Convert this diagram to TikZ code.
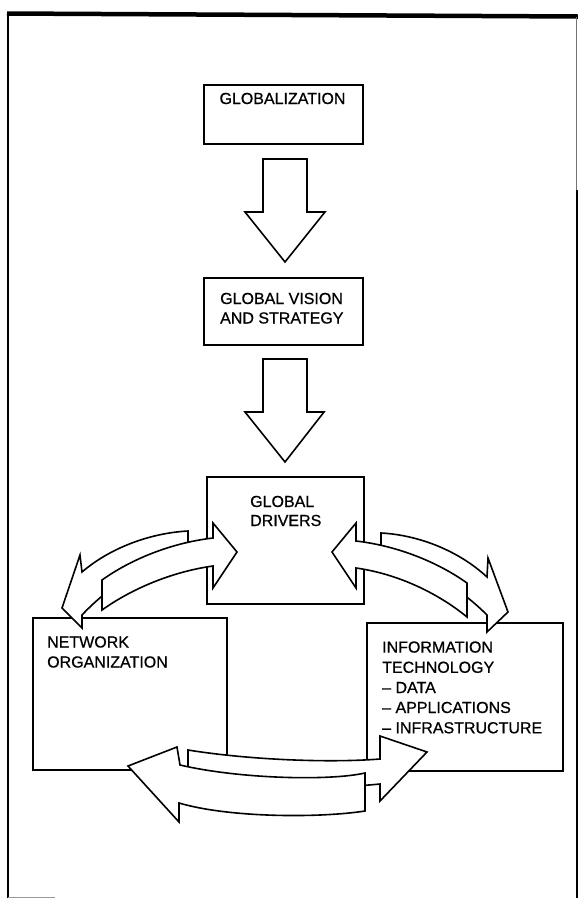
\documentclass[tikz,border=0pt]{standalone}
\usepackage{fontspec}
\setmainfont{Liberation Sans}
\newfontfamily\hvfont[FakeBold=0.7]{Liberation Sans}
\begin{document}
\begin{tikzpicture}[x=1pt,y=-1pt,
  box/.style={draw, line width=1.6pt, fill=white, inner sep=0pt, anchor=north west},
  blk/.style={draw, line width=1.6pt, fill=white, line join=miter, miter limit=20},
  lbl/.style={anchor=base west, inner sep=0pt, font=\hvfont\fontsize{16}{19.5}\selectfont},
  frm/.style={line width=2pt}]
\useasboundingbox (0,0) rectangle (578,898);
\fill[white] (0,0) rectangle (578,898);
% frame
\draw[line width=4.5pt] (7,13.5) -- (578,16.5);
\draw[frm] (8,12) -- (8,898);
\draw[line width=1.2pt, black!55] (576.8,17) -- (576.8,190);
\draw[line width=1.4pt] (576.8,190) -- (576.8,898);
\draw[line width=1pt, black!40] (8,897) -- (55,897);
% boxes
\node[box, minimum width=159pt, minimum height=59pt] (glob) at (203,84) {};
\node[box, minimum width=159pt, minimum height=67pt] (vis) at (203,277) {};
\node[box, minimum width=157pt, minimum height=127pt] (drv) at (206,476) {};
\node[box, minimum width=194pt, minimum height=152pt] (net) at (32,617) {};
\node[box, minimum width=196pt, minimum height=148pt] (it) at (366,622) {};
% labels
\node[lbl, anchor=base] (globt) at (282.5,104) {GLOBALIZATION};
\node[lbl] (vist1) at (220,304) {GLOBAL VISION};
\node[lbl] (vist2) at (220,323.5) {AND STRATEGY};
\node[lbl] (drvt1) at (250,507) {GLOBAL};
\node[lbl] (drvt2) at (250,526) {DRIVERS};
\node[lbl] (nett1) at (47,647.5) {NETWORK};
\node[lbl] (nett2) at (47,667.5) {ORGANIZATION};
\node[lbl] (itt1) at (382,652.6) {INFORMATION};
\node[lbl] (itt2) at (382,672.8) {TECHNOLOGY};
\node[lbl] (itt3) at (382,693) {– DATA};
\node[lbl] (itt4) at (382,713) {– APPLICATIONS};
\node[lbl] (itt5) at (382,733.3) {– INFRASTRUCTURE};
% vertical block arrows
\draw[blk] (263,159) -- (307,159) -- (307,212) -- (325,212) -- (285,262) -- (245,212) -- (263,212) -- cycle;
\draw[blk] (263,359) -- (307,359) -- (307,412) -- (324,412) -- (285,462) -- (245,412) -- (263,412) -- cycle;
% upper-left double arrow (back then front)
\draw[blk] (188,531) .. controls (150,533) and (110,548) .. (82,572) -- (80,555) -- (62,608) -- (82,628) -- (82,615) .. controls (112,583) and (150,561) .. (188,559) -- cycle;
\draw[blk] (102,580) .. controls (130,560) and (170,543) .. (213,538) -- (213,523) -- (237,552) -- (213,588) -- (213,566) .. controls (170,572) and (130,590) .. (102,610) -- cycle;
% upper-right double arrow
\draw[blk] (381,533) .. controls (419,535) and (459,551) .. (487,577) -- (488,558) -- (508,612) -- (487,632) -- (487,615) .. controls (457,585) and (419,563) .. (381,561) -- cycle;
\draw[blk] (467,583) .. controls (439,563) and (399,546) .. (356,541) -- (356,523) -- (332,552) -- (356,588) -- (356,568) .. controls (399,574) and (439,594) .. (467,617) -- cycle;
% bottom double arrow
\draw[blk] (188,750) .. controls (250,760) and (330,763) .. (380,759) -- (380,736) -- (427,752) -- (380,801) -- (380,784) .. controls (320,790) and (240,788) .. (188,780) -- cycle;
\draw[blk] (365,773) .. controls (330,781) and (240,779) .. (180,765) -- (177,747) -- (128,766) -- (179,822) -- (179,803) .. controls (230,818) and (320,818) .. (365,811) -- cycle;
\end{tikzpicture}
\end{document}
